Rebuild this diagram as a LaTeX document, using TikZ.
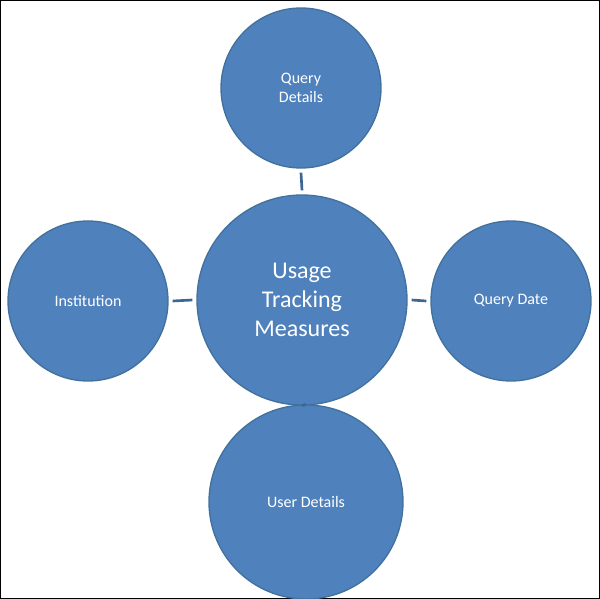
\documentclass[tikz,border=0pt]{standalone}
\usepackage{fontspec}
\setmainfont{Carlito}
\definecolor{fillb}{HTML}{4F81BD}
\definecolor{edgeb}{HTML}{41719C}
\definecolor{lineb}{HTML}{3C6794}
\begin{document}
\begin{tikzpicture}[x=0.75pt,y=-0.75pt,
  bub/.style={circle,fill=fillb,draw=edgeb,line width=1pt,text=white,align=center,inner sep=0pt,font=\fontsize{12}{14.5}\selectfont},
  con/.style={draw=lineb,line width=2pt}]
\useasboundingbox (0,0) rectangle (600,599);
\draw[black,line width=0.8pt] (0.5,0.5) rectangle (599.5,598.5);
\node[bub,minimum size=210*0.75pt,font=\fontsize{18}{22}\selectfont] (c) at (302,300) {Usage\\Tracking\\Measures};
\node[bub,minimum size=160*0.75pt] (t) at (301,88) {Query\\Details};
\node[bub,minimum size=160*0.75pt] (l) at (88,301) {Institution};
\node[bub,minimum size=160*0.75pt] (r) at (511,301) {Query Date};
\node[bub,minimum size=194*0.75pt] (b) at (306,502) {User Details};
\draw[con] ([yshift=-3pt]t.south) -- ([yshift=3pt]c.north);
\draw[con] ([xshift=3pt]l.east) -- ([xshift=-3pt]c.west);
\draw[con] ([xshift=-3pt]r.west) -- ([xshift=3pt]c.east);
\draw[con] (c.south) -- (b.north);
\end{tikzpicture}
\end{document}
